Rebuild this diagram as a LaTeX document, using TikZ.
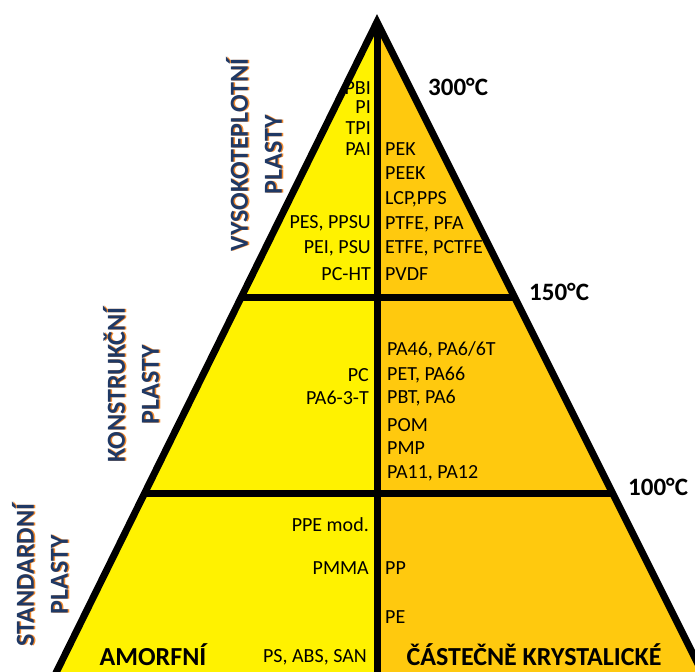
\documentclass[tikz,border=0pt]{standalone}
\usepackage{fontspec}
\setmainfont{Carlito}
\usetikzlibrary{calc}
\definecolor{yel}{HTML}{FFF200}
\definecolor{org}{HTML}{FFC90E}
\definecolor{navy}{HTML}{1F3864}
\definecolor{shad}{HTML}{F08A30}
\begin{document}
\begin{tikzpicture}[x=1pt,y=-1pt,
  lbl/.style={font=\fontsize{20}{20}\selectfont, inner sep=0pt},
  lft/.style={lbl, anchor=east},
  rgt/.style={lbl, anchor=west},
  temp/.style={font=\bfseries\fontsize{25}{25}\selectfont, anchor=west, inner sep=0pt},
  bottomlbl/.style={font=\bfseries\fontsize{26}{26}\selectfont, inner sep=0pt},
  sidelbl/.style={font=\bfseries\fontsize{26}{34}\selectfont, align=center, rotate=90, inner sep=0pt, text=navy},
  sideshadow/.style={sidelbl, text=shad},
  edge/.style={line width=7pt, black}]
\useasboundingbox (0,0) rectangle (695,671);
\coordinate (apex) at (377,22);
\coordinate (bl) at (13,760);
\coordinate (bc) at (377,760);
\coordinate (br) at (746,760);
\coordinate (l1) at (241,297);
\coordinate (r1) at (514.5,297);
\coordinate (l2) at (144,493);
\coordinate (r2) at (612.5,493);
\begin{scope}
\clip (0,0) rectangle (695,671);
\fill[yel] (apex) -- (bl) -- (bc) -- cycle;
\fill[org] (apex) -- (bc) -- (br) -- cycle;
\draw[edge] (apex) -- (bc);
\draw[edge] (l1) -- (r1);
\draw[edge] (l2) -- (r2);
\draw[edge, line join=miter] (bl) -- (apex) -- (br);
\end{scope}
% top section
\node[lft] (pbi) at (371,88) {PBI};
\node[lft] (pi) at (371,107) {PI};
\node[lft] (tpi) at (371,128) {TPI};
\node[lft] (pai) at (371,149) {PAI};
\node[lft] (pes) at (371,223) {PES, PPSU};
\node[lft] (pei) at (371,248) {PEI, PSU};
\node[lft] (pcht) at (371,274) {PC-HT};
\node[rgt] (pek) at (385,149) {PEK};
\node[rgt] (peek) at (385,173) {PEEK};
\node[rgt] (lcp) at (385,199) {LCP,PPS};
\node[rgt] (ptfe) at (385,224) {PTFE, PFA};
\node[rgt] (etfe) at (385,248) {ETFE, PCTFE};
\node[rgt] (pvdf) at (385,274) {PVDF};
% middle section
\node[lft] (pc) at (369,375) {PC};
\node[lft] (pa63t) at (369,398) {PA6-3-T};
\node[rgt] (pa46) at (387,350) {PA46, PA6/6T};
\node[rgt] (pet) at (387,375) {PET, PA66};
\node[rgt] (pbt) at (387,398) {PBT, PA6};
\node[rgt] (pom) at (387,425) {POM};
\node[rgt] (pmp) at (387,448) {PMP};
\node[rgt] (pa11) at (387,473) {PA11, PA12};
% bottom section
\node[lft] (ppe) at (369,525) {PPE mod.};
\node[lft] (pmma) at (369,568) {PMMA};
\node[rgt] (pp) at (385,568) {PP};
\node[rgt] (pe) at (385,617) {PE};
\node[lft] (ps) at (367,657) {PS, ABS, SAN};
\node[bottomlbl] (amorf) at (153,655) {AMORFNÍ};
\node[bottomlbl] (cast) at (534,655) {ČÁSTEČNĚ KRYSTALICKÉ};
% temperatures
\node[temp] (t300) at (428,87) {300°C};
\node[temp] (t150) at (529,292) {150°C};
\node[temp] (t100) at (628,487) {100°C};
% side labels
\node[sideshadow] at (255.5,155) {VYSOKOTEPLOTNÍ\\PLASTY};
\node[sidelbl] (vys) at (254,155) {VYSOKOTEPLOTNÍ\\PLASTY};
\node[sideshadow] at (132.5,385) {KONSTRUKČNÍ\\PLASTY};
\node[sidelbl] (kon) at (131,385) {KONSTRUKČNÍ\\PLASTY};
\node[sideshadow] at (41.5,575) {STANDARDNÍ\\PLASTY};
\node[sidelbl] (std) at (40,575) {STANDARDNÍ\\PLASTY};
\end{tikzpicture}
\end{document}
